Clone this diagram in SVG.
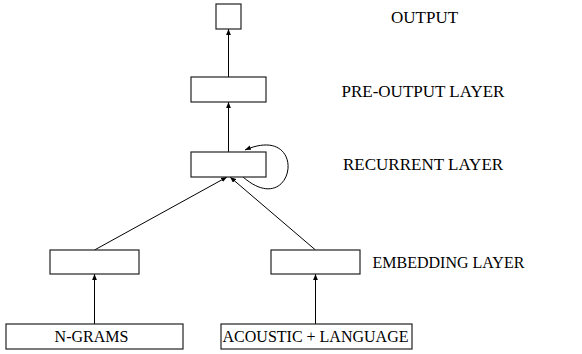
<svg xmlns="http://www.w3.org/2000/svg" width="582" height="354" viewBox="0 0 582 354">
<style>
.box{fill:#fff;stroke:#222;stroke-width:1.2}
.edge{fill:none;stroke:#000;stroke-width:1}
text{font-family:"Liberation Serif","Times New Roman",serif;font-size:16px;fill:#000}
.c{text-anchor:middle}
.big{font-size:17px}
</style>
<defs>
<marker id="ah" viewBox="0 0 10 8" refX="10" refY="4" markerWidth="6" markerHeight="5" markerUnits="userSpaceOnUse" orient="auto">
<path d="M0,0 L10,4 L0,8 z" fill="#000"/>
</marker>
</defs>
<g id="connectors">
<line class="edge" x1="228.5" y1="77" x2="228.5" y2="29" marker-end="url(#ah)"/>
<line class="edge" x1="228.5" y1="152" x2="228.5" y2="102" marker-end="url(#ah)"/>
<path class="edge" d="M243,177 C295,222 310,122 245,150" marker-end="url(#ah)"/>
<line class="edge" x1="94.5" y1="250" x2="227" y2="177" marker-end="url(#ah)"/>
<line class="edge" x1="315.5" y1="250" x2="230" y2="177" marker-end="url(#ah)"/>
<line class="edge" x1="94.5" y1="324" x2="94.5" y2="274" marker-end="url(#ah)"/>
<line class="edge" x1="315.5" y1="324" x2="315.5" y2="274" marker-end="url(#ah)"/>
</g>
<g id="output"><rect class="box" x="216" y="4" width="25" height="25"/></g>
<g id="pre-output"><rect class="box" x="191" y="77" width="75" height="25"/></g>
<g id="recurrent"><rect class="box" x="191" y="152" width="75" height="25"/></g>
<g id="embed-left"><rect class="box" x="50" y="250" width="89" height="24"/></g>
<g id="embed-right"><rect class="box" x="271" y="250" width="89" height="24"/></g>
<g id="ngrams"><rect class="box" x="6" y="324" width="177" height="25"/><text class="c" x="91.5" y="342">N-GRAMS</text></g>
<g id="acoustic"><rect class="box" x="221" y="324" width="191" height="25"/><text class="c" x="315.5" y="342">ACOUSTIC + LANGUAGE</text></g>
<g id="labels">
<text class="big" x="391" y="22.5">OUTPUT</text>
<text class="big" x="341.5" y="96.5">PRE-OUTPUT LAYER</text>
<text class="big" x="343" y="170">RECURRENT LAYER</text>
<text x="372.5" y="268">EMBEDDING LAYER</text>
</g>
</svg>
